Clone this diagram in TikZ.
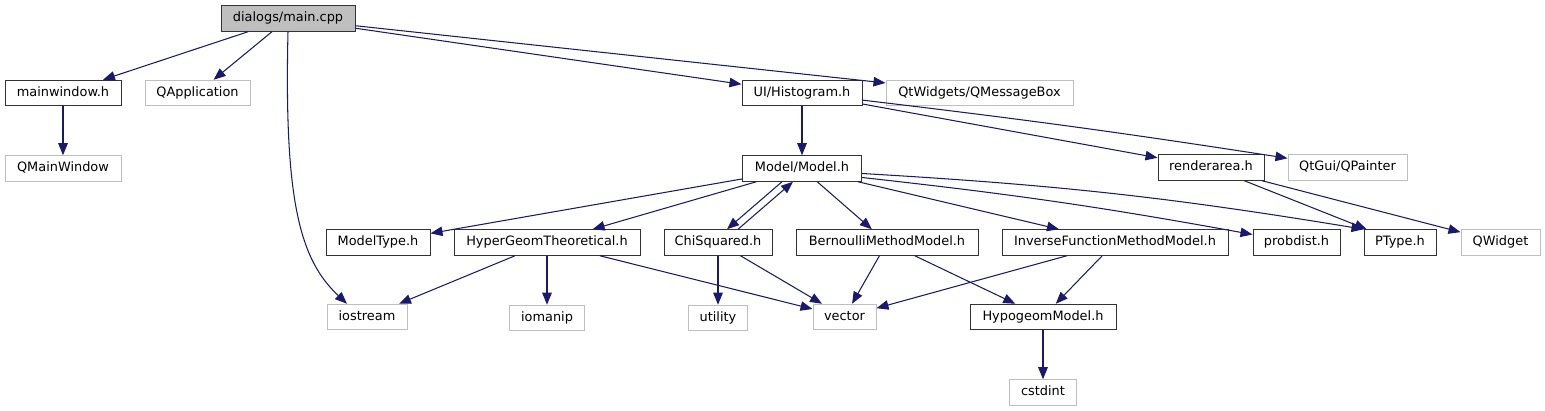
\documentclass[tikz,border=0pt]{standalone}
\usepackage{fontspec}
\setmainfont{DejaVu Sans}
\usetikzlibrary{arrows.meta,positioning}
\definecolor{edgeblue}{HTML}{191970}
\definecolor{extgray}{HTML}{BFBFBF}

\begin{document}
\begin{tikzpicture}[x=1pt, y=-1pt,
  file/.style={draw=black!80, fill=white, line width=1pt, minimum height=25.5pt,
    inner xsep=2pt, inner ysep=0pt, text height=9.5pt, text depth=3pt,
    font=\fontsize{12.9}{15}\selectfont},
  ext/.style={file, draw=extgray},
  inc/.style={draw=edgeblue, line width=1.05pt, -{Triangle[length=12pt, width=9.5pt]}}]

\useasboundingbox (0,0) rectangle (1545,411);

% main file
\node[file, fill=extgray, minimum width=134pt] (main) at (288,18.5) {dialogs/main.cpp};

% first level
\node[file, minimum width=116pt] (mainwin) at (63,93) {mainwindow.h};
\node[ext, minimum width=105pt] (qapp) at (197.5,93) {QApplication};
\node[file, minimum width=120pt] (hist) at (802,93) {UI/Histogram.h};
\node[ext, minimum width=187pt] (qmsgbox) at (979.5,93) {QtWidgets/QMessageBox};

% second level
\node[ext, minimum width=116pt, below=49pt of mainwin] (qmainwin) {QMainWindow};
\node[file, minimum width=119pt, below=49pt of hist] (model) {Model/Model.h};
\node[file, minimum width=106pt] (render) at (1211,167.5) {renderarea.h};
\node[ext, minimum width=119pt] (qpainter) at (1347.5,167.5) {QtGui/QPainter};

% headers of the model
\node[file, minimum width=104pt] (modeltype) at (378,242.5) {ModelType.h};
\node[file, minimum width=186pt] (hypertheo) at (547,242.5) {HyperGeomTheoretical.h};
\node[file, minimum width=108pt] (chisq) at (718,242.5) {ChiSquared.h};
\node[file, minimum width=182pt] (bernoulli) at (887,242.5) {BernoulliMethodModel.h};
\node[file, minimum width=226pt] (inverse) at (1115,242.5) {InverseFunctionMethodModel.h};
\node[file, minimum width=87pt] (probdist) at (1296.5,242.5) {probdist.h};
\node[file, minimum width=72pt] (ptype) at (1400,242.5) {PType.h};
\node[ext, minimum width=79pt] (qwidget) at (1500.5,242.5) {QWidget};

% bottom rows
\node[ext, minimum width=80pt] (iostream) at (367,317) {iostream};
\node[ext, minimum width=75pt, below=49pt of hypertheo] (iomanip) {iomanip};
\node[ext, minimum width=59pt, below=49pt of chisq] (utility) {utility};
\node[ext, minimum width=63pt] (vector) at (844.5,317) {vector};
\node[file, minimum width=146pt] (hypogeom) at (1043,317) {HypogeomModel.h};
\node[ext, minimum width=67pt, below=49pt of hypogeom] (cstdint) {cstdint};

% includes of main.cpp
\draw[inc] (main) -- (mainwin);
\draw[inc] (main) -- (qapp);
\draw[inc] (main.south) .. controls +(-4,170) and +(-47,-44) .. ([xshift=-20pt]iostream.north);
\draw[inc] (main) -- (hist);
\draw[inc] (main) -- (qmsgbox);
\draw[inc] (mainwin) -- (qmainwin);

% includes of Histogram.h and renderarea.h
\draw[inc] (hist) -- (model);
\draw[inc] (hist) -- (render);
\draw[inc] (hist) to[bend left=1] (qpainter);
\draw[inc] (render) -- (ptype);
\draw[inc] (render) -- (qwidget);

% includes of Model.h
\draw[inc] (model) -- (modeltype);
\draw[inc] (model) -- (hypertheo);
\draw[inc] ([xshift=-20pt]model.south) -- ([xshift=9pt]chisq.north);
\draw[inc] ([xshift=20pt]chisq.north) -- ([xshift=-9pt]model.south);
\draw[inc] (model) -- (bernoulli);
\draw[inc] (model) -- (inverse);
\draw[inc] ([yshift=-9pt]model.east) to[bend left=2] ([yshift=8pt]probdist.west);
\draw[inc] ([yshift=-5pt]model.east) to[bend left=3] (ptype.north west);

% lower includes
\draw[inc] (hypertheo) -- (iostream);
\draw[inc] (hypertheo) -- (iomanip);
\draw[inc] (hypertheo) -- (vector);
\draw[inc] (chisq) -- (utility);
\draw[inc] (chisq) -- (vector);
\draw[inc] (bernoulli) -- (vector);
\draw[inc] (bernoulli) -- (hypogeom);
\draw[inc] (inverse) -- (vector);
\draw[inc] (inverse) -- (hypogeom);
\draw[inc] (hypogeom) -- (cstdint);

\end{tikzpicture}
\end{document}
